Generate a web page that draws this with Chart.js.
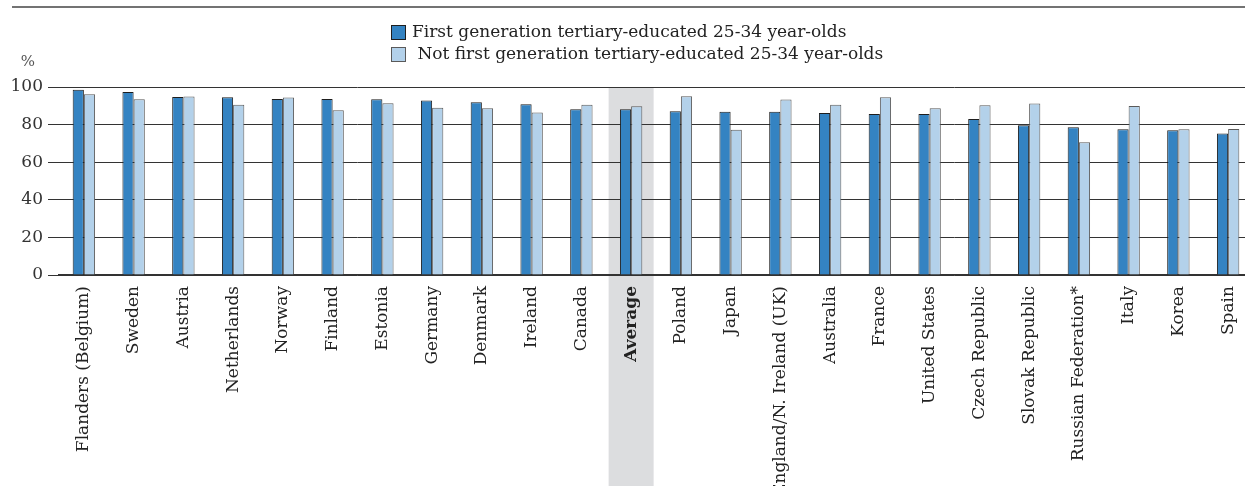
<!DOCTYPE html>
<html>
<head>
<meta charset="utf-8">
<script src="https://cdn.jsdelivr.net/npm/chart.js@4"></script>
<style>
  html, body { margin: 0; padding: 0; background: #fff; }
  #wrap { width: 1245px; height: 486px; overflow: hidden; position: relative; }
  #chart { position: absolute; left: 0; top: 0; }
</style>
</head>
<body>
<div id="wrap"><canvas id="chart" width="1260" height="486"></canvas></div>
<script>
// jshint esversion: 6

const countries = ['Flanders (Belgium)', 'Sweden', 'Austria', 'Netherlands', 'Norway', 'Finland',
    'Estonia', 'Germany', 'Denmark', 'Ireland', 'Canada', 'Average', 'Poland', 'Japan',
    'England/N. Ireland (UK)', 'Australia', 'France', 'United States', 'Czech Republic',
    'Slovak Republic', 'Russian Federation*', 'Italy', 'Korea', 'Spain'];
const first_gen = [98.6, 97.3, 94.7, 94.5, 93.6, 93.6, 93.5, 92.8, 91.9, 90.8, 88.2, 88.2, 87.1, 86.9,
    86.9, 86.2, 85.7, 85.7, 83.0, 79.7, 78.6, 77.5, 77.0, 75.3];
const not_first_gen = [96.1, 93.5, 94.9, 90.6, 94.4, 87.6, 91.3, 89.0, 88.7, 86.4, 90.6, 89.7, 95.1, 77.2,
    93.3, 90.6, 94.5, 88.7, 90.3, 91.2, 70.6, 89.9, 77.5, 77.7];
const y_ticks = [0, 20, 40, 60, 80, 100];
const series_names = ['First generation tertiary-educated 25-34 year-olds',
    ' Not first generation tertiary-educated 25-34 year-olds'];
const highlight = 'Average';

const FONT = "'DejaVu Serif', serif";

// grey band behind the average, frame line, % sign and the stacked legend
const extras = {
    id: 'extras',
    beforeDraw(chart) {
        const c = chart.ctx;
        const x = chart.scales.x;
        const cx = x.getPixelForValue(countries.indexOf(highlight));
        c.save();
        c.fillStyle = '#dcdddf';
        c.fillRect(cx - 22.5, chart.chartArea.top, 45, chart.height - chart.chartArea.top);
        c.restore();
    },
    afterDraw(chart) {
        const c = chart.ctx;
        c.save();
        c.strokeStyle = '#444';
        c.lineWidth = 1.5;
        c.beginPath();
        c.moveTo(12, 7);
        c.lineTo(chart.width, 7);
        c.stroke();

        c.fillStyle = '#555';
        c.font = "15px " + FONT;
        c.textAlign = 'center';
        c.textBaseline = 'middle';
        c.fillText('%', 28, 62);

        c.font = "17px " + FONT;
        c.textAlign = 'left';
        chart.data.datasets.forEach(function(ds, k) {
            const yy = 25 + k * 22;
            c.fillStyle = ds.backgroundColor;
            c.fillRect(391, yy, 15, 15);
            c.strokeStyle = ds.borderColor;
            c.lineWidth = 1;
            c.strokeRect(391.5, yy + 0.5, 14, 14);
            c.fillStyle = '#222';
            c.fillText(series_names[k], 412, yy + 8);
        });
        c.restore();
    }
};

const ctx = document.getElementById('chart').getContext('2d');
let myChart = new Chart(ctx, {
    type: 'bar',
    data: {
        labels: countries,
        datasets: [{
            label: series_names[0],
            data: first_gen,
            backgroundColor: '#3483c2',
            borderColor: '#1e1e1e',
            borderWidth: 1,
            barPercentage: 1,
            categoryPercentage: 0.45
        }, {
            label: series_names[1],
            data: not_first_gen,
            backgroundColor: '#b3d1ea',
            borderColor: '#5a5a5a',
            borderWidth: 1,
            barPercentage: 1,
            categoryPercentage: 0.45
        }]
    },
    options: {
        responsive: false,
        animation: false,
        layout: { padding: { left: 0, right: 7, top: 87, bottom: 0 } },
        plugins: {
            legend: { display: false },
            tooltip: { enabled: false }
        },
        scales: {
            x: {
                grid: { display: false, drawTicks: false },
                border: { display: true, color: '#333', width: 1.5 },
                ticks: {
                    autoSkip: false,
                    maxRotation: 90,
                    minRotation: 90,
                    padding: 11,
                    color: '#222',
                    font: function(c) {
                        return { family: FONT, size: 17, weight: countries[c.index] === highlight ? 'bold' : 'normal' };
                    }
                },
                afterFit: function(scale) { scale.height = 211; }
            },
            y: {
                min: 0,
                max: 100,
                afterBuildTicks: function(scale) {
                    scale.ticks = y_ticks.map(function(v) { return { value: v }; });
                },
                grid: { color: '#333', lineWidth: 1, tickLength: 11, tickColor: '#333' },
                border: { display: false },
                ticks: { padding: 5, color: '#333', font: { family: FONT, size: 17 } },
                afterFit: function(scale) { scale.width = 59; }
            }
        }
    },
    plugins: [extras]
});
</script>
</body>
</html>
